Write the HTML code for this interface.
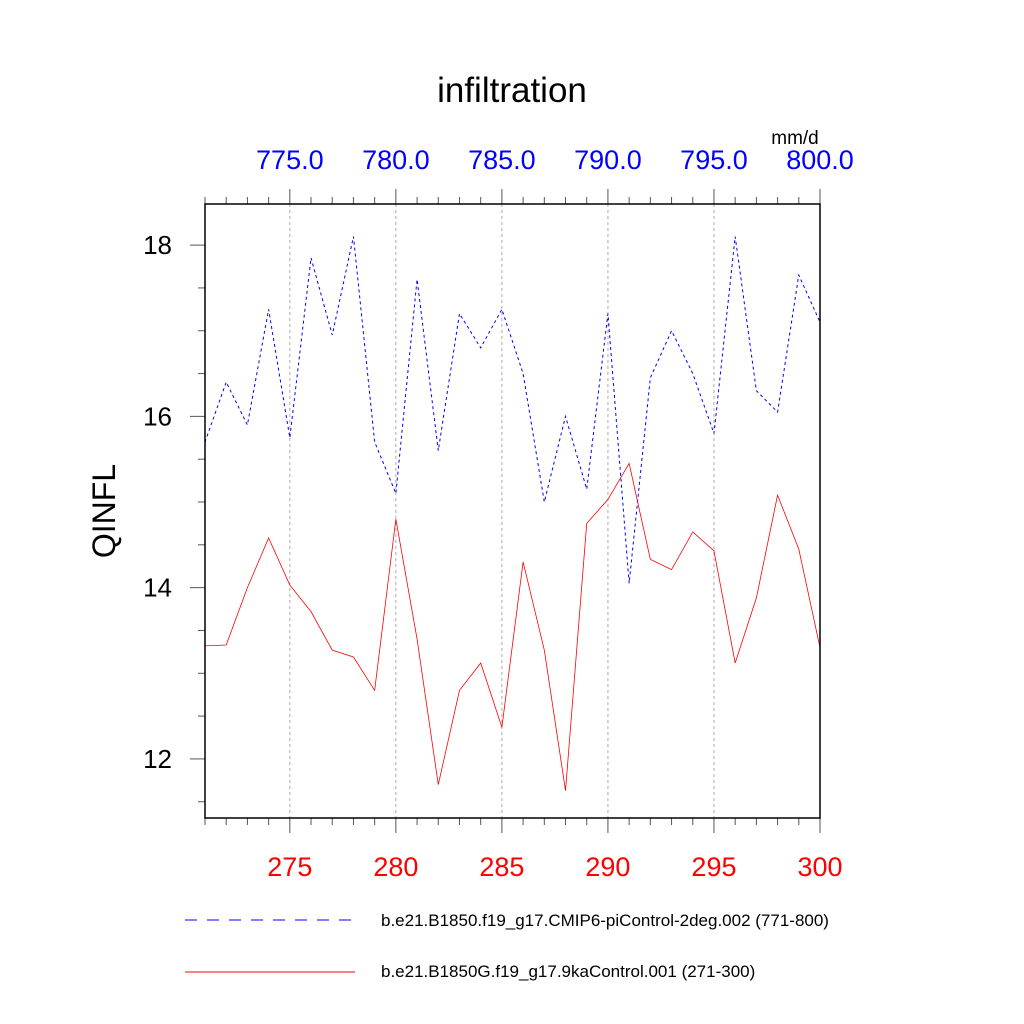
<!DOCTYPE html>
<html><head><meta charset="utf-8"><style>body{margin:0;background:#fff}svg{display:block;font-family:"Liberation Sans",sans-serif}</style></head>
<body>
<svg id="chart" width="1024" height="1024">
<text x="512" y="102" font-size="35" text-anchor="middle">infiltration</text>
<text x="795" y="144" font-size="19" text-anchor="middle">mm/d</text>
<text x="115" y="511" font-size="32" text-anchor="middle" transform="rotate(-90 115 511)">QINFL</text>
<g id="grid"></g><g id="axes"></g><g id="series"></g>
<rect x="205" y="204" width="615" height="614" fill="none" stroke="#000" stroke-width="1.5"/>
<g>
<line x1="185" y1="920" x2="355" y2="920" stroke="#00f" stroke-dasharray="12,10"/>
<text x="381" y="926" font-size="17">b.e21.B1850.f19_g17.CMIP6-piControl-2deg.002 (771-800)</text>
<line x1="185" y1="972" x2="355" y2="972" stroke="#f00"/>
<text x="381" y="977" font-size="17">b.e21.B1850G.f19_g17.9kaControl.001 (271-300)</text>
</g>
</svg>
<script>
const years=[271,272,273,274,275,276,277,278,279,280,281,282,283,284,285,286,287,288,289,290,291,292,293,294,295,296,297,298,299,300];
const blueValues=[15.7,16.4,15.9,17.25,15.75,17.85,16.95,18.1,15.7,15.1,17.6,15.6,17.2,16.8,17.25,16.5,15.0,16.0,15.15,17.2,14.05,16.45,17.0,16.5,15.8,18.1,16.3,16.05,17.65,17.1];
const redValues=[13.32,13.33,14.0,14.58,14.03,13.72,13.27,13.19,12.8,14.8,13.4,11.7,12.8,13.12,12.37,14.3,13.27,11.63,14.75,15.03,15.45,14.33,14.21,14.65,14.43,13.12,13.88,15.08,14.45,13.3];
const bottomTicks=[275,280,285,290,295,300];
const topTickLabels=["775.0","780.0","785.0","790.0","795.0","800.0"];
const yTicks=[12,14,16,18];
const NS="http://www.w3.org/2000/svg";
const X0=205,X1=820,Y0=204,Y1=818,xmin=271,xmax=300,ymin=11.31,ymax=18.48;
const sx=v=>X0+(v-xmin)/(xmax-xmin)*(X1-X0);
const sy=v=>Y1-(v-ymin)/(ymax-ymin)*(Y1-Y0);
function mk(tag,at,parent){const e=document.createElementNS(NS,tag);for(const k in at)e.setAttribute(k,at[k]);document.getElementById(parent).appendChild(e);return e;}
for(let v=xmin;v<=xmax;v++){const x=sx(v);const maj=v%5===0;const L=maj?15:7;
 let t=mk('line',{x1:x,y1:Y1,x2:x,y2:Y1+L,stroke:'#555'},'axes');
 
 
 t=mk('line',{x1:x,y1:Y0,x2:x,y2:Y0-L,stroke:'#555'},'axes');
 
 }
bottomTicks.forEach((v,i)=>{const x=sx(v);
 if(v<xmax){const g=mk('line',{x1:x,y1:Y0,x2:x,y2:Y1,stroke:'#aaa','stroke-dasharray':'3,3'},'grid');
 
 }
 let t=mk('text',{x:x,y:876,'font-size':27,fill:'#f00','text-anchor':'middle'},'axes');t.textContent=v;
 
 
 t=mk('text',{x:x,y:169,'font-size':27,fill:'#00f','text-anchor':'middle'},'axes');t.textContent=topTickLabels[i];
 
 });
for(let v=11.5;v<=18.4;v+=0.5){const y=sy(v);const maj=Math.abs(v-Math.round(v))<1e-6&&Math.round(v)%2===0;const L=maj?15:7;
 let t=mk('line',{x1:X0,y1:y,x2:X0-L,y2:y,stroke:'#555'},'axes');
 
 }
yTicks.forEach(v=>{const t=mk('text',{x:172,y:sy(v)+9,'font-size':26,'text-anchor':'end'},'axes');t.textContent=v;
 
 });
const bl=mk('polyline',{points:years.map((y,i)=>sx(y)+','+sy(blueValues[i])).join(' '),fill:'none',stroke:'#00f','stroke-dasharray':'3,3'},'series');


const rl=mk('polyline',{points:years.map((y,i)=>sx(y)+','+sy(redValues[i])).join(' '),fill:'none',stroke:'#f00','stroke-width':0.8},'series');


</script>
</body></html>
